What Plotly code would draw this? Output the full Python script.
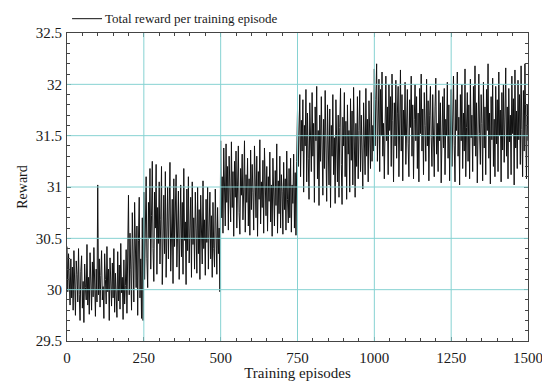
import plotly.graph_objects as go

episode_step = 2.5
reward = [
    30.42, 29.98, 30.35, 30.10, 29.85, 30.30, 29.92, 30.22, 29.80, 30.38,
    30.05, 29.75, 30.28, 30.15, 29.88, 30.40, 29.95, 29.70, 30.18, 30.33,
    29.82, 30.08, 29.68, 30.25, 30.02, 29.90, 30.44, 29.85, 30.12, 29.76,
    30.36, 30.00, 29.80, 30.27, 29.93, 30.41, 30.06, 29.74, 30.20, 29.88,
    31.02, 29.95, 30.30, 29.83, 30.14, 30.38, 29.90, 30.03, 29.72, 30.35,
    30.10, 29.86, 30.42, 29.98, 30.20, 29.70, 30.31, 30.05, 29.84, 30.26,
    29.92, 30.40, 29.78, 30.16, 30.00, 29.73, 30.37, 29.89, 30.24, 29.81,
    30.45, 29.97, 30.12, 29.71, 30.29, 29.86, 30.04, 30.39, 29.77, 30.19,
    30.92, 29.95, 30.55, 30.20, 29.80, 30.75, 30.10, 29.88, 30.85, 30.35,
    30.02, 30.62, 29.75, 30.48, 30.90, 29.92, 30.30, 29.72, 30.70, 29.70,
    30.95, 30.10, 30.65, 31.10, 30.30, 30.02, 30.85, 30.50, 31.18, 30.20,
    30.72, 31.25, 30.40, 30.08, 30.95, 30.60, 31.22, 30.15, 30.80, 30.45,
    31.05, 30.25, 30.68, 31.20, 30.05, 30.55, 30.92, 30.35, 31.15, 30.12,
    30.62, 31.00, 30.30, 30.78, 31.24, 30.18, 30.50, 30.88, 30.06, 31.08,
    30.42, 30.70, 31.12, 30.22, 30.58, 30.96, 30.10, 30.75, 31.02, 30.32,
    30.85, 30.15, 31.18, 30.48, 30.66, 30.05, 30.98, 30.38, 31.10, 30.26,
    30.55, 30.90, 30.12, 31.05, 30.44, 30.70, 30.20, 30.95, 30.60, 30.16,
    31.00, 30.35, 30.78, 30.10, 30.92, 30.52, 30.25, 31.06, 30.40, 30.68,
    30.14, 30.88, 30.46, 31.00, 30.20, 30.62, 30.95, 30.30, 30.72, 30.12,
    30.85, 30.40, 30.22, 30.98, 30.55, 30.15, 30.80, 30.35, 30.60, 29.98,
    31.45, 30.70, 31.10, 30.55, 31.38, 30.95, 30.62, 31.42, 30.85, 31.20,
    30.58, 31.30, 31.05, 30.66, 31.44, 30.80, 31.15, 30.52, 31.25, 30.90,
    31.35, 30.60, 31.02, 31.40, 30.75, 30.54, 31.18, 30.92, 31.32, 30.68,
    30.98, 31.45, 30.56, 31.12, 30.85, 31.28, 30.62, 31.08, 30.53, 31.36,
    30.78, 31.22, 30.95, 30.58, 31.40, 31.00, 30.70, 31.30, 30.52, 31.15,
    30.88, 31.46, 30.64, 31.05, 30.80, 31.26, 30.55, 31.38, 30.94, 30.72,
    31.20, 30.57, 31.10, 30.86, 31.34, 30.66, 31.02, 30.52, 31.28, 30.90,
    30.62, 31.16, 30.82, 31.42, 30.55, 31.06, 30.74, 31.30, 30.60, 31.12,
    30.96, 30.54, 31.24, 30.78, 31.08, 30.58, 31.35, 30.88, 30.65, 31.18,
    30.70, 31.28, 30.56, 31.02, 30.84, 31.32, 30.60, 31.14, 30.53, 31.25,
    31.75, 31.20, 31.55, 31.90, 31.10, 31.65, 31.35, 31.85, 30.95, 31.60,
    31.40, 31.95, 31.05, 31.72, 31.28, 30.88, 31.82, 31.50, 31.15, 31.92,
    31.30, 31.62, 30.85, 31.78, 31.45, 31.98, 31.08, 31.55, 30.82, 31.70,
    31.25, 31.88, 31.42, 30.92, 31.66, 31.18, 31.94, 31.35, 30.86, 31.80,
    31.52, 31.02, 31.76, 30.80, 31.60, 31.30, 31.90, 31.12, 31.48, 30.84,
    31.85, 31.38, 31.05, 31.70, 30.90, 31.58, 31.96, 31.22, 30.83, 31.68,
    31.40, 31.92, 31.10, 31.64, 30.88, 31.80, 31.32, 31.55, 30.95, 31.86,
    31.26, 31.74, 31.02, 31.97, 31.45, 30.90, 31.62, 31.20, 31.88, 31.08,
    31.55, 31.94, 31.15, 31.70, 31.36, 30.98, 31.82, 31.48, 31.12, 31.96,
    31.30, 31.66, 31.05, 31.84, 31.42, 31.18, 31.92, 31.25, 31.60, 31.35,
    32.15, 31.40, 31.85, 32.20, 31.25, 31.70, 32.05, 31.15, 31.95, 31.50,
    32.12, 31.30, 31.62, 31.08, 31.92, 32.08, 31.45, 31.78, 31.12, 32.00,
    31.55, 31.88, 31.20, 32.10, 31.65, 31.05, 31.82, 31.40, 32.04, 31.28,
    31.72, 31.98, 31.10, 31.60, 32.14, 31.35, 31.90, 31.06, 31.75, 31.50,
    32.02, 31.22, 31.68, 31.95, 31.42, 31.10, 31.85, 31.58, 32.08, 31.30,
    31.80, 31.08, 31.66, 32.00, 31.45, 31.88, 31.18, 31.72, 31.05, 31.96,
    31.52, 32.10, 31.35, 31.76, 31.12, 31.92, 31.60, 31.25, 32.05, 31.40,
    31.84, 31.06, 31.70, 31.98, 31.48, 31.20, 31.90, 31.55, 31.10, 31.78,
    32.06, 31.32, 31.62, 31.15, 31.94, 31.45, 31.82, 31.04, 31.70, 31.88,
    31.38, 31.96, 31.12, 31.66, 31.50, 32.02, 31.28, 31.80, 31.06, 31.58,
    31.95, 31.20, 31.75, 32.08, 31.40, 31.05, 31.85, 31.55, 32.12, 31.30,
    31.68, 31.02, 31.90, 31.45, 32.00, 31.18, 31.72, 31.35, 32.15, 31.10,
    31.58, 31.92, 31.25, 31.80, 31.08, 32.05, 31.48, 31.70, 31.15, 31.98,
    31.40, 32.18, 31.30, 31.82, 31.04, 31.65, 32.10, 31.52, 31.22, 31.90,
    31.62, 31.06, 32.02, 31.38, 31.78, 31.12, 31.95, 31.55, 32.20, 31.28,
    31.72, 31.03, 31.88, 31.46, 32.06, 31.20, 31.66, 31.10, 31.98, 31.42,
    31.85, 31.15, 32.12, 31.50, 31.75, 31.05, 31.92, 31.36, 32.00, 31.24,
    31.60, 32.16, 31.30, 31.78, 31.08, 31.96, 31.44, 31.70, 31.12, 32.08,
    31.52, 31.86, 31.02, 32.14, 31.38, 31.74, 31.18, 32.04, 31.46, 31.90,
    31.22, 32.18, 31.56, 31.10, 31.94, 31.35, 32.20, 31.62, 31.08, 31.80,
    31.45,
]
episodes = [i * episode_step for i in range(len(reward))]

series_name = "Total reward per training episode"
x_ticks = [0, 250, 500, 750, 1000, 1250, 1500]
y_ticks = [29.5, 30, 30.5, 31, 31.5, 32, 32.5]
y_tick_text = ["29.5", "30", "30.5", "31", "31.5", "32", "32.5"]

grid_color = "#86d2d2"
axis_color = "#444444"
text_color = "#1a1a1a"
line_color = "#111111"
font_family = "Liberation Serif"

fig = go.Figure()
fig.add_trace(go.Scatter(
    x=episodes, y=reward, mode="lines",
    line=dict(color=line_color, width=1),
    name=series_name, showlegend=False,
))

shapes = []
for xv in x_ticks[1:-1]:
    shapes.append(dict(type="line", xref="x", yref="paper", x0=xv, x1=xv, y0=0, y1=1,
                       line=dict(color=grid_color, width=1), layer="above"))
for yv in y_ticks[1:-1]:
    shapes.append(dict(type="line", xref="paper", yref="y", x0=0, x1=1, y0=yv, y1=yv,
                       line=dict(color=grid_color, width=1), layer="above"))
# legend key (sample line) above the plot area
shapes.append(dict(type="line", xref="paper", yref="paper", x0=0.011, x1=0.076,
                   y0=1.0465, y1=1.0465, line=dict(color=line_color, width=1)))

axis_common = dict(
    showline=True, linecolor=axis_color, linewidth=1, mirror="ticks",
    ticks="inside", ticklen=4, tickcolor=axis_color,
    showgrid=False, zeroline=False, automargin=False,
    tickfont=dict(family=font_family, size=15, color=text_color),
)

# the page body adds an 8px offset, so the figure is sized/margined to compensate
fig.update_layout(
    width=542, height=373,
    margin=dict(l=59, r=22, t=25, b=40),
    paper_bgcolor="white", plot_bgcolor="white",
    font=dict(family=font_family, color=text_color),
    shapes=shapes,
    showlegend=False,
    annotations=[dict(text=series_name, xref="paper", yref="paper", x=0.079, y=1.0465,
                      xanchor="left", yanchor="middle", showarrow=False,
                      font=dict(family=font_family, size=13, color=text_color))],
    xaxis=dict(
        range=[0, 1500], tickvals=x_ticks, ticklabelstandoff=3,
        title=dict(text="Training episodes", standoff=0,
                   font=dict(family=font_family, size=15, color=text_color)),
        minor=dict(ticks="inside", dtick=50, ticklen=3, tickcolor=axis_color, showgrid=False),
        **axis_common,
    ),
    yaxis=dict(
        range=[29.5, 32.5], tickvals=y_ticks, ticktext=y_tick_text, ticklabelstandoff=1,
        title=dict(text="Reward", standoff=4,
                   font=dict(family=font_family, size=14, color=text_color)),
        minor=dict(ticks="inside", dtick=0.1, ticklen=3, tickcolor=axis_color, showgrid=False),
        **axis_common,
    ),
)

fig.write_html("out.html")
